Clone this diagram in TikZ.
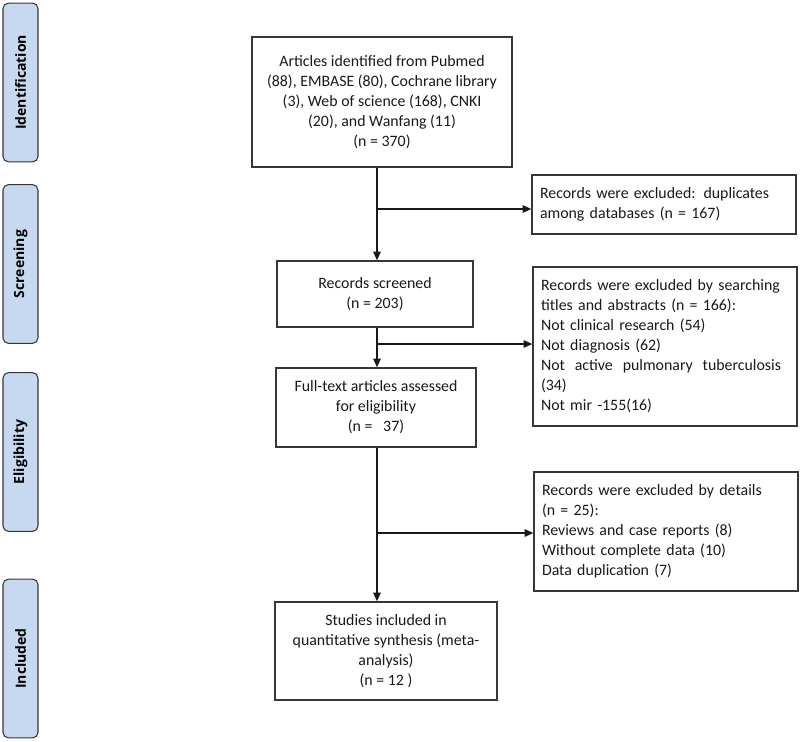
\documentclass[tikz,border=0pt]{standalone}
\usepackage{fontspec}
\setmainfont{Carlito}
\newfontfamily\tabfont{Open Sans}
\usetikzlibrary{arrows.meta}
\definecolor{tabblue}{RGB}{198,217,240}
\definecolor{linegray}{RGB}{55,55,55}
\definecolor{inkgray}{RGB}{25,25,25}
\newcommand\boxfont{\fontsize{11.9}{15}\selectfont\hyphenpenalty 10000\relax}
\tikzset{
  stagetab/.style={draw=linegray, fill=tabblue, rounded corners=4pt, line width=0.8pt,
    rotate=90, minimum width=119pt, minimum height=26.25pt, inner sep=0pt,
    text=black, font=\tabfont\bfseries\fontsize{10.5}{12}\selectfont},
  flowbox/.style={draw=linegray, line width=0.9pt, align=center, inner sep=0pt,
    text=inkgray, font=\boxfont},
  sidebox/.style={flowbox, align=left, text width=186pt, inner xsep=6pt}
}
\begin{document}
\begin{tikzpicture}[x=0.75pt, y=-0.75pt]
      \useasboundingbox (0,0) rectangle (800,742);
      \draw
        (20.5,82.5) node[stagetab] (id){Identification}
        (20.5,264) node[stagetab] (scr){Screening}
        (20.5,452) node[stagetab] (elig){Eligibility}
        (20.5,658.5) node[stagetab] (incl){Included};
      \draw
        (382,102) node[flowbox, minimum width=195pt, minimum height=97.5pt] (found)
          {Articles identified from Pubmed\\(88), EMBASE (80), Cochrane library\\(3), Web of science (168), CNKI\\(20), and Wanfang (11)\\(n = 370)}
        (375,294) node[flowbox, minimum width=147pt, minimum height=49.5pt] (screened)
          {Records screened\\(n = 203)}
        (376,407.5) node[flowbox, minimum width=150pt, minimum height=59.25pt] (fulltext)
          {Full-text articles assessed\\for eligibility\\(n =\ \ \ 37)}
        (386,651) node[flowbox, minimum width=166.5pt, minimum height=73.5pt] (final)
          {Studies included in\\quantitative synthesis (meta-\\analysis)\\(n = 12 )}
        (664,204.5) node[sidebox, minimum height=44.25pt] (dup)
          {Records were excluded: duplicates\\among databases (n = 167)}
        (665,346.5) node[sidebox, minimum height=119.25pt] (title)
          {Records were excluded by searching\\titles and abstracts (n = 166):\\Not clinical research (54)\\Not diagnosis (62)\\\makebox[180pt][s]{Not\hfill active\hfill pulmonary\hfill tuberculosis}\\(34)\\Not mir -155(16)}
        (666,531.5) node[sidebox, minimum height=89.25pt] (detail)
          {Records were excluded by details\\(n = 25):\\Reviews and case reports (8)\\Without complete data (10)\\Data duplication (7)};
      \coordinate (b1) at (377,209);
      \coordinate (b2) at (377,344);
      \coordinate (b3) at (377,533);
      \begin{scope}[-{Triangle[length=6.5pt,width=5.5pt]}, line width=1.1pt, draw=inkgray]
        \draw (found.south -| b1) to (screened.north -| b1);
        \draw (b1) to (b1 -| dup.west);
        \draw (screened.south -| b2) to (fulltext.north -| b2);
        \draw (b2) to (b2 -| title.west);
        \draw (fulltext.south -| b3) to (final.north -| b3);
        \draw (b3) to (b3 -| detail.west);
      \end{scope}
    \end{tikzpicture}
\end{document}
